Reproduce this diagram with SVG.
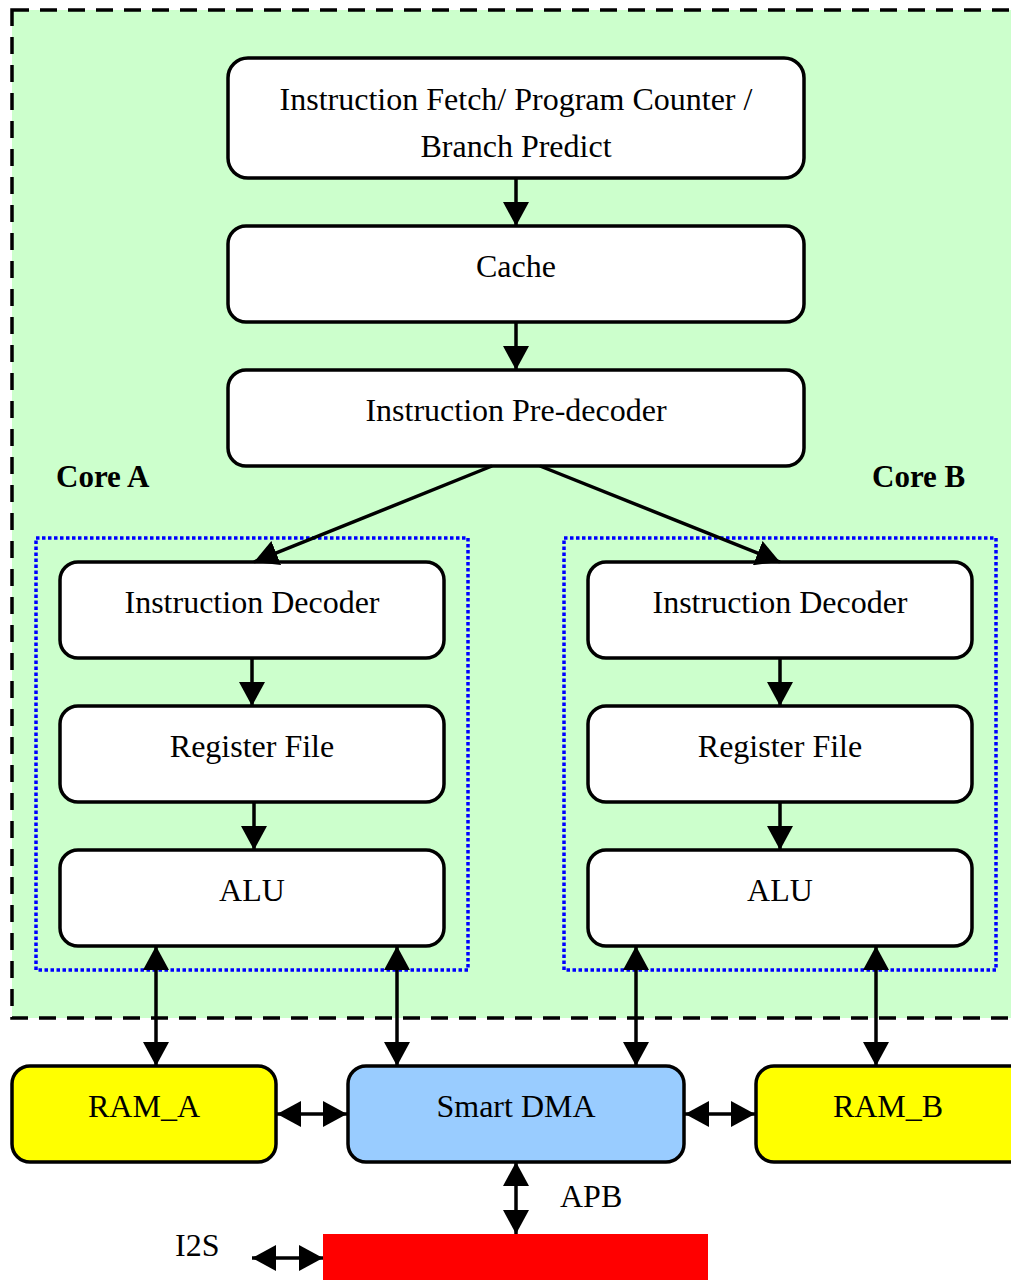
<svg xmlns="http://www.w3.org/2000/svg" width="1011" height="1280" viewBox="0 0 1011 1280">
  <defs>
    <marker id="head" markerUnits="userSpaceOnUse" markerWidth="24" markerHeight="26" refX="24" refY="13" orient="auto-start-reverse" viewBox="0 0 24 26">
      <path d="M0,0 L24,13 L0,26 z" fill="#000"/>
    </marker>
  </defs>
  <style>
    .box { fill: #fff; stroke: #000; stroke-width: 3.5; }
    .ram { fill: #ffff00; stroke: #000; stroke-width: 3.5; }
    .dma { fill: #99ccff; stroke: #000; stroke-width: 3.5; }
    .core { fill: none; stroke: #0000ff; stroke-width: 3.5; stroke-dasharray: 3.5 2.5; }
    .lbl { font-family: "Liberation Serif", "Times New Roman", serif; font-size: 32px; fill: #000; text-anchor: middle; }
    .tag { font-family: "Liberation Serif", "Times New Roman", serif; font-size: 32px; fill: #000; }
    .bold { font-family: "Liberation Serif", "Times New Roman", serif; font-size: 31px; font-weight: bold; fill: #000; }
    .one { fill: none; stroke: #000; stroke-width: 3.5; marker-end: url(#head); }
    .two { fill: none; stroke: #000; stroke-width: 3.5; marker-start: url(#head); marker-end: url(#head); }
  </style>

  <!-- processor subsystem area -->
  <g id="subsystem">
    <rect x="12" y="10" width="1030" height="1008" fill="#ccffcc" stroke="#000" stroke-width="3.5" stroke-dasharray="17 11"/>
  </g>

  <g id="core-a-frame">
    <rect class="core" x="36" y="538" width="432" height="432"/>
    <text class="bold" x="56" y="487">Core A</text>
  </g>
  <g id="core-b-frame">
    <rect class="core" x="564" y="538" width="432" height="432"/>
    <text class="bold" x="872" y="487">Core B</text>
  </g>

  <g id="fetch">
    <rect class="box" x="228" y="58" width="576" height="120" rx="20"/>
    <text class="lbl" x="516" y="110">Instruction Fetch/ Program Counter /</text>
    <text class="lbl" x="516" y="157">Branch Predict</text>
  </g>
  <g id="cache">
    <rect class="box" x="228" y="226" width="576" height="96" rx="18"/>
    <text class="lbl" x="516" y="277">Cache</text>
  </g>
  <g id="predecoder">
    <rect class="box" x="228" y="370" width="576" height="96" rx="18"/>
    <text class="lbl" x="516" y="421">Instruction Pre-decoder</text>
  </g>

  <g id="decoder-a">
    <rect class="box" x="60" y="562" width="384" height="96" rx="18"/>
    <text class="lbl" x="252" y="613">Instruction Decoder</text>
  </g>
  <g id="regfile-a">
    <rect class="box" x="60" y="706" width="384" height="96" rx="18"/>
    <text class="lbl" x="252" y="757">Register File</text>
  </g>
  <g id="alu-a">
    <rect class="box" x="60" y="850" width="384" height="96" rx="18"/>
    <text class="lbl" x="252" y="901">ALU</text>
  </g>

  <g id="decoder-b">
    <rect class="box" x="588" y="562" width="384" height="96" rx="18"/>
    <text class="lbl" x="780" y="613">Instruction Decoder</text>
  </g>
  <g id="regfile-b">
    <rect class="box" x="588" y="706" width="384" height="96" rx="18"/>
    <text class="lbl" x="780" y="757">Register File</text>
  </g>
  <g id="alu-b">
    <rect class="box" x="588" y="850" width="384" height="96" rx="18"/>
    <text class="lbl" x="780" y="901">ALU</text>
  </g>

  <g id="ram-a">
    <rect class="ram" x="12" y="1066" width="264" height="96" rx="18"/>
    <text class="lbl" x="144" y="1117">RAM_A</text>
  </g>
  <g id="smart-dma">
    <rect class="dma" x="348" y="1066" width="336" height="96" rx="18"/>
    <text class="lbl" x="516" y="1117">Smart DMA</text>
  </g>
  <g id="ram-b">
    <rect class="ram" x="756" y="1066" width="280" height="96" rx="18"/>
    <text class="lbl" x="888" y="1117">RAM_B</text>
  </g>

  <g id="i2s">
    <rect x="323" y="1234" width="385" height="60" fill="#ff0000"/>
    <text class="tag" x="175" y="1256">I2S</text>
  </g>
  <g id="apb-label">
    <text class="tag" x="560" y="1207">APB</text>
  </g>

  <!-- links between blocks -->
  <g id="connectors">
    <line class="one" x1="516" y1="178" x2="516" y2="226"/>
    <line class="one" x1="516" y1="322" x2="516" y2="370"/>
    <line class="one" x1="492" y1="466" x2="254" y2="562"/>
    <line class="one" x1="540" y1="466" x2="780" y2="562"/>
    <line class="one" x1="252" y1="658" x2="252" y2="706"/>
    <line class="one" x1="254" y1="802" x2="254" y2="850"/>
    <line class="one" x1="780" y1="658" x2="780" y2="706"/>
    <line class="one" x1="780" y1="802" x2="780" y2="850"/>
    <line class="two" x1="156" y1="946" x2="156" y2="1066"/>
    <line class="two" x1="397" y1="946" x2="397" y2="1066"/>
    <line class="two" x1="636" y1="946" x2="636" y2="1066"/>
    <line class="two" x1="876" y1="946" x2="876" y2="1066"/>
    <line class="two" x1="277" y1="1114" x2="347" y2="1114"/>
    <line class="two" x1="685" y1="1114" x2="755" y2="1114"/>
    <line class="two" x1="516" y1="1162" x2="516" y2="1234"/>
    <line class="two" x1="252" y1="1258" x2="323" y2="1258"/>
  </g>
</svg>
